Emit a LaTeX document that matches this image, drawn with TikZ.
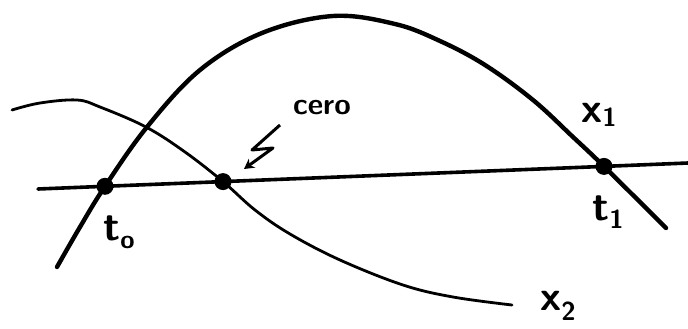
\documentclass[tikz,border=0pt]{standalone}
\usepackage{fontspec}
\usetikzlibrary{arrows.meta}
\begin{document}
\begin{tikzpicture}[x=1pt,y=-1pt,
  curveA/.style={line width=4.4pt,line cap=round,line join=round},
  curveB/.style={line width=2.8pt,line cap=round,line join=round},
  axisline/.style={line width=3.6pt,line cap=round},
  dotnode/.style={circle,fill=black,inner sep=0pt,minimum size=17pt},
  lbl/.style={font=\sffamily\bfseries\fontsize{42}{42}\selectfont,inner sep=0pt},
  small/.style={font=\sffamily\bfseries\fontsize{30}{30}\selectfont,inner sep=0pt}]
\newcommand{\subtxt}[2]{\raisebox{#1}{\fontsize{26}{26}\selectfont #2}}
\useasboundingbox (0,0) rectangle (688,329);
% axis
\coordinate (aL) at (38,189);
\coordinate (aR) at (688,163);
\node[dotnode] (t0) at (105,186.3) {};
\node[dotnode] (z) at (223,181.6) {};
\node[dotnode] (t1) at (604,166.4) {};
\draw[axisline] (aL) -- (t0.center) -- (z.center) -- (t1.center) -- (aR);
% x1 curve
\draw[curveA] plot[smooth,tension=0.6] coordinates {(57,267) (80,227) (105,186.3) (147,127) (200,70) (262,33) (333,16) (395,24) (440,41) (485,65) (533,100) (573,137) (604,166.4) (666,228)};
% x2 curve
\draw[curveB] plot[smooth,tension=0.6] coordinates {(12,110) (40,103) (77,100) (100,107) (146,127) (185,152) (223,181.6) (255,210) (290,234) (340,260) (403,285) (453,297) (512,305)};
% labels
\node[lbl] (lt0) at (119,232) {t\subtxt{-0.2em}{o}};
\node[lbl] (lt1) at (608,212) {t\subtxt{-0.2em}{1}};
\node[lbl] (lx1) at (599,115) {x\subtxt{-0.1em}{1}};
\node[lbl] (lx2) at (558,306) {x\subtxt{-0.25em}{2}};
\node[small] (cero) at (322,108) {cero};
% lightning arrow
\coordinate (s0) at (280,125);
\coordinate (s1) at (252,150);
\coordinate (s2) at (273,148);
\coordinate (s3) at (244,169);
\draw[line width=3pt,line join=round,-{Stealth[length=10pt,width=11pt]}] (s0) -- (s1) -- (s2) -- (s3);
\end{tikzpicture}
\end{document}
